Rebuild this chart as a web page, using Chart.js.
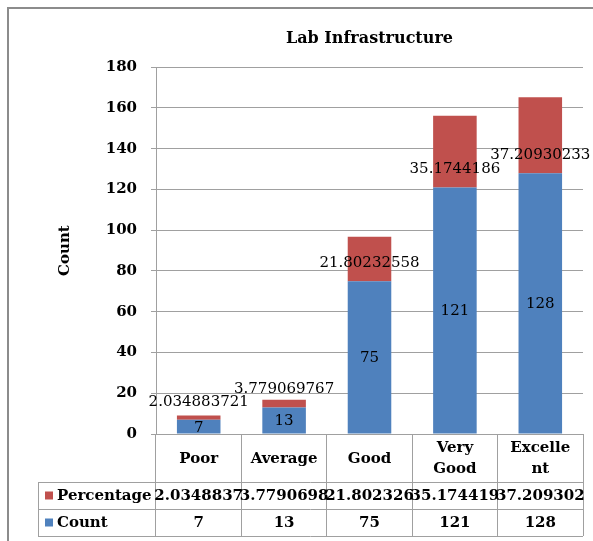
<!DOCTYPE html>
<html>
<head>
<meta charset="utf-8">
<title>Lab Infrastructure</title>
<script src="https://cdn.jsdelivr.net/npm/chart.js@4.4.0/dist/chart.umd.min.js"></script>
<style>
  html, body { margin: 0; padding: 0; background: #fff; }
  #wrap { width: 593px; height: 541px; }
</style>
</head>
<body>
<div id="wrap"><canvas id="myChart" width="593" height="541"></canvas></div>
<script>
// categories along the x-axis
var levels = ['Poor', 'Average', 'Good', 'Very Good', 'Excellent'];
// header text as it wraps inside the table cells
var levelLines = [['Poor'], ['Average'], ['Good'], ['Very', 'Good'], ['Excelle', 'nt']];
// the two stacked series
var counts = [7, 13, 75, 121, 128];
var percentages = [2.034883721, 3.779069767, 21.80232558, 35.1744186, 37.20930233];

var serif = '"DejaVu Serif", serif';
var gridGray = '#a0a0a0';

// frame + data table under the plot (Excel style)
var tablePlugin = {
  id: 'dataTable',
  beforeDraw: function(chart) {
    var c = chart.ctx;
    c.save();
    c.fillStyle = '#fff';
    c.fillRect(0, 0, chart.width, chart.height);
    c.strokeStyle = '#8c8c8c';
    c.lineWidth = 2;
    c.beginPath();
    c.moveTo(8, chart.height);
    c.lineTo(8, 8);
    c.lineTo(chart.width, 8);
    c.stroke();
    c.restore();
  },
  afterDraw: function(chart) {
    var c = chart.ctx, x = chart.scales.x, area = chart.chartArea;
    var top = area.bottom, row1 = top + 48, row2 = row1 + 27, row3 = row2 + 27;
    var left = 38;
    c.save();
    c.strokeStyle = gridGray;
    c.lineWidth = 1;
    c.beginPath();
    [row1, row2, row3].forEach(function(y) {
      c.moveTo(left, y + 0.5);
      c.lineTo(area.right, y + 0.5);
    });
    c.moveTo(left + 0.5, row1);
    c.lineTo(left + 0.5, row3 + 1);
    c.stroke();

    c.fillStyle = '#000';
    c.font = 'bold 15px ' + serif;
    c.textAlign = 'center';
    c.textBaseline = 'middle';
    levelLines.forEach(function(lines, i) {
      var cx = x.getPixelForValue(i);
      var mid = (top + row1) / 2 + 1;
      lines.forEach(function(t, j) {
        c.fillText(t, cx, mid + (j - (lines.length - 1) / 2) * 21);
      });
      c.fillText(percentages[i].toPrecision(8), cx, (row1 + row2) / 2 + 1);
      c.fillText(String(counts[i]), cx, (row2 + row3) / 2 + 1);
    });

    // legend keys in the first column
    c.textAlign = 'left';
    c.fillStyle = '#C0504D';
    c.fillRect(45, (row1 + row2) / 2 - 4, 8, 8);
    c.fillStyle = '#4F81BD';
    c.fillRect(45, (row2 + row3) / 2 - 4, 8, 8);
    c.fillStyle = '#000';
    c.fillText('Percentage', 57, (row1 + row2) / 2 + 1);
    c.fillText('Count', 57, (row2 + row3) / 2 + 1);
    c.restore();
  }
};

// value labels on the bars
var barLabels = {
  id: 'barLabels',
  afterDatasetsDraw: function(chart) {
    var c = chart.ctx;
    c.save();
    c.font = '15px ' + serif;
    c.fillStyle = '#000';
    c.textAlign = 'center';
    c.textBaseline = 'middle';
    chart.getDatasetMeta(0).data.forEach(function(bar, i) {
      c.fillText(String(counts[i]), bar.x, (bar.y + bar.base) / 2 + 1);
    });
    chart.getDatasetMeta(1).data.forEach(function(bar, i) {
      c.fillText(String(percentages[i]), bar.x, bar.base - 18);
    });
    c.restore();
  }
};

var ctx = document.getElementById('myChart');
var myChart = new Chart(ctx, {
  type: 'bar',
  data: {
    labels: levels,
    datasets: [
      {
        label: 'Count',
        data: counts,
        backgroundColor: '#4F81BD',
        stack: 's'
      },
      {
        label: 'Percentage',
        data: percentages,
        backgroundColor: '#C0504D',
        stack: 's'
      }
    ]
  },
  options: {
    responsive: false,
    animation: false,
    devicePixelRatio: 1,
    layout: { padding: { left: 8, right: 10, top: 8, bottom: 5 } },
    datasets: { bar: { categoryPercentage: 1, barPercentage: 0.51 } },
    plugins: {
      legend: { display: false },
      tooltip: { enabled: false },
      title: {
        display: true,
        text: 'Lab Infrastructure',
        fullSize: false,
        color: '#000',
        font: { family: serif, size: 16, weight: 'bold' },
        padding: { top: 21, bottom: 19 }
      }
    },
    scales: {
      x: {
        stacked: true,
        offset: true,
        ticks: { display: false },
        grid: { offset: true, drawOnChartArea: false, tickLength: 102, color: gridGray },
        border: { color: gridGray }
      },
      y: {
        stacked: true,
        min: 0,
        max: 180,
        ticks: {
          stepSize: 20,
          color: '#000',
          padding: 14,
          font: { family: serif, size: 15, weight: 'bold' }
        },
        grid: { color: gridGray, tickLength: 5 },
        border: { color: gridGray },
        title: {
          display: true,
          text: 'Count',
          color: '#000',
          font: { family: serif, size: 15, weight: 'bold' },
          padding: { top: 48, bottom: 0 }
        },
        afterFit: function(scale) { scale.width = 148; }
      }
    }
  },
  plugins: [tablePlugin, barLabels]
});
</script>
</body>
</html>
